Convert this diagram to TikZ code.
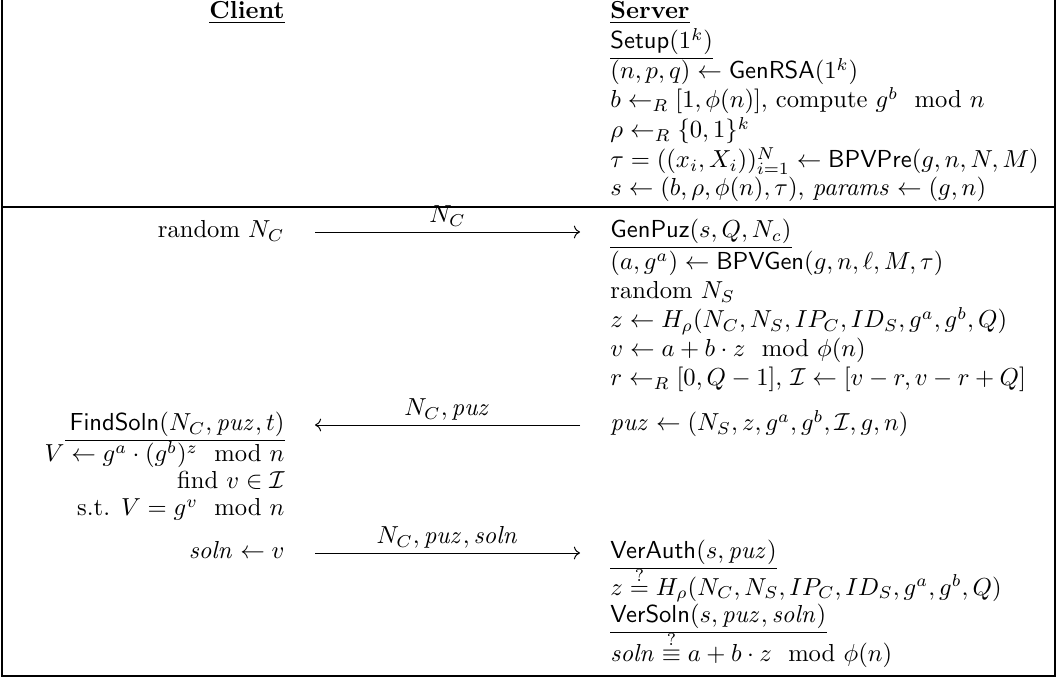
\documentclass[tikz,border=0pt]{standalone}
\usepackage{amsmath,amssymb}
\usetikzlibrary{calc,arrows.meta}
\begin{document}
\begin{tikzpicture}[x=0.4065pt,y=-0.4065pt,
  lt/.style={anchor=base west,inner sep=0pt},
  rt/.style={anchor=base east,inner sep=0pt},
  lab/.style={anchor=base,inner sep=0pt},
  frame/.style={line width=0.5pt},
  ul/.style={line width=0.4pt},
  msg/.style={line width=0.4pt,-{Computer Modern Rightarrow}}]
\useasboundingbox (0,0) rectangle (1057,680);
% frame
\coordinate (tl) at (2,0);
\coordinate (tr) at (1055,0);
\coordinate (ml) at (2,207);
\coordinate (mr) at (1055,207);
\coordinate (bl) at (2,676);
\coordinate (br) at (1055,676);
\draw[frame] (tl) -- (bl) -- (br) -- (tr);
\draw[frame] (ml) -- (mr);
% headers
\node[rt] (hC) at (285,19) {\underline{\textbf{Client}}};
\node[lt] (hS) at (610,19) {\underline{\textbf{Server}}};
% setup
\node[lt] (setup) at (610,49) {$\mathsf{Setup}(1^k)$};
\draw[ul] ([yshift=-4pt]setup.base west) -- ([yshift=-4pt]setup.base east);
\node[lt] (gen) at (610,79) {$(n,p,q) \leftarrow \mathsf{GenRSA}(1^k)$};
\node[lt] (bsel) at (610,108) {$b \leftarrow_R [1,\phi(n)]$, compute $g^b \mod n$};
\node[lt] (rho) at (610,138) {$\rho \leftarrow_R \{0,1\}^k$};
\node[lt] (tau) at (610,168) {$\tau = ((x_i,X_i))_{i=1}^N \leftarrow \mathsf{BPVPre}(g,n,N,M)$};
\node[lt] (sset) at (610,196) {$s \leftarrow (b,\rho,\phi(n),\tau)$, $\mathit{params} \leftarrow (g,n)$};
% GenPuz
\node[rt] (rNC) at (285,238) {random $N_C$};
\node[lt] (genpuz) at (610,238) {$\mathsf{GenPuz}(s,Q,N_c)$};
\draw[ul] ([yshift=-4pt]genpuz.base west) -- ([yshift=-4pt]genpuz.base east);
\node[lt] (bpv) at (610,270) {$(a,g^a) \leftarrow \mathsf{BPVGen}(g,n,\ell,M,\tau)$};
\node[lt] (rNS) at (610,299) {random $N_S$};
\node[lt] (zz) at (610,328) {$z \leftarrow H_\rho(N_C,N_S,IP_C,ID_S,g^a,g^b,Q)$};
\node[lt] (vv) at (610,357) {$v \leftarrow a + b\cdot z \mod \phi(n)$};
\node[lt] (rr) at (610,386) {$r \leftarrow_R [0,Q-1]$, $\mathcal{I} \leftarrow [v-r,v-r+Q]$};
\node[lt] (puz) at (610,431) {$\mathit{puz} \leftarrow (N_S,z,g^a,g^b,\mathcal{I},g,n)$};
% client solving
\node[rt] (find) at (285,431) {$\mathsf{FindSoln}(N_C,\mathit{puz},t)$};
\node[rt] (VV) at (285,462) {$V \leftarrow g^a\cdot(g^b)^z \mod n$};
\draw[ul] ([yshift=-4pt]find.base east) -- ($([yshift=-4pt]find.base east -| VV.base west)+(21,0)$);
\node[rt] (fv) at (285,489) {find $v \in \mathcal{I}$};
\node[rt] (st) at (285,516) {s.t. $V = g^v \mod n$};
\node[rt] (sol) at (285,559) {$\mathit{soln} \leftarrow v$};
% verification
\node[lt] (vauth) at (610,559) {$\mathsf{VerAuth}(s,\mathit{puz})$};
\draw[ul] ([yshift=-4pt]vauth.base west) -- ([yshift=-4pt]vauth.base east);
\node[lt] (zchk) at (610,595) {$z \stackrel{?}{=} H_\rho(N_C,N_S,IP_C,ID_S,g^a,g^b,Q)$};
\node[lt] (vsol) at (610,623) {$\mathsf{VerSoln}(s,\mathit{puz},\mathit{soln})$};
\draw[ul] ([yshift=-4pt]vsol.base west) -- ([yshift=-4pt]vsol.base east);
\node[lt] (schk) at (610,662) {$\mathit{soln} \stackrel{?}{\equiv} a + b\cdot z \mod \phi(n)$};
% messages
\coordinate (a1s) at (315,232);
\coordinate (a1e) at (580,232);
\draw[msg] (a1s) -- (a1e);
\node[lab] (l1) at (447.5,223) {$N_C$};
\coordinate (a2s) at (580,425);
\coordinate (a2e) at (315,425);
\draw[msg] (a2s) -- (a2e);
\node[lab] (l2) at (447.5,416) {$N_C,\mathit{puz}$};
\coordinate (a3s) at (315,553);
\coordinate (a3e) at (580,553);
\draw[msg] (a3s) -- (a3e);
\node[lab] (l3) at (447.5,544) {$N_C,\mathit{puz},\mathit{soln}$};
\end{tikzpicture}
\end{document}
